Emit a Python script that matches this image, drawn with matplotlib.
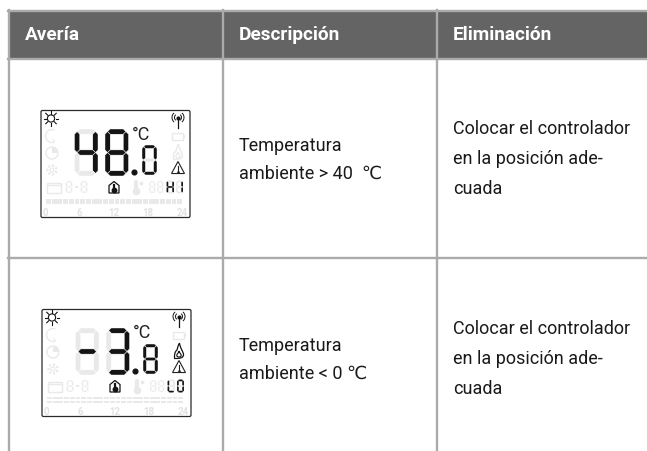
import matplotlib
matplotlib.use("Agg")
import matplotlib.pyplot as plt
from matplotlib.patches import Polygon, Rectangle, FancyBboxPatch, Circle, Wedge, PathPatch
from matplotlib.path import Path
import numpy as np

# table contents
headers = ["Avería", "Descripción", "Eliminación"]
descriptions = [["Temperatura", "ambiente > 40  ℃"], ["Temperatura", "ambiente < 0 ℃"]]
remedies = [["Colocar el controlador", "en la posición ade-", "cuada"],
            ["Colocar el controlador", "en la posición ade-", "cuada"]]

# what each display shows
big_digits = [["4", "8"], ["-", "3"]]
small_digit = ["0", "8"]
status_text = [["H", "I"], ["L", "0"]]
flame_on = [False, True]
double_bar = [False, True]
hour_labels = ["0", "6", "12", "18", "24"]

# layout in pixels
col_lines = [9, 223, 437]
col_text = [25, 239, 453]
lcd_tops = [110, 309]
lcd_left = [40, 41]
desc_base = [[151, 179], [351, 379]]
rem_base = [[134.5, 164.5, 194.5], [334.5, 364.5, 394.5]]

SEGS = {"0": "abcdef", "3": "abcdg", "4": "bcfg", "8": "abcdefg", "-": "g",
        "H": "bcefg", "I": "bc", "L": "def"}
OFF = "#e9e9e9"
ON = "#141414"
LINE = "#ababab"
HEAD = "#646464"

plt.rcParams["font.family"] = ["Roboto", "DejaVu Sans"]

fig = plt.figure(figsize=(6.47, 4.51), dpi=100)
ax = fig.add_axes([0, 0, 1, 1])
ax.set_xlim(0, 647)
ax.set_ylim(451, 0)
ax.axis("off")


def segment(name, x, y, w, h, t):
    m = y + h / 2
    r = x + w
    b = y + h
    s = t * 0.5
    shapes = {
        "a": [(x + s, y + s), (x + t, y), (r - t, y), (r - s, y + s), (r - t, y + t), (x + t, y + t)],
        "d": [(x + s, b - s), (x + t, b - t), (r - t, b - t), (r - s, b - s), (r - t, b), (x + t, b)],
        "g": [(x + s, m), (x + t, m - s), (r - t, m - s), (r - s, m), (r - t, m + s), (x + t, m + s)],
        "f": [(x, y + t), (x + s, y + s), (x + t, y + t), (x + t, m - s), (x + s, m), (x, m - s)],
        "e": [(x, m + s), (x + s, m), (x + t, m + s), (x + t, b - t), (x + s, b - s), (x, b - t)],
        "b": [(r - t, y + t), (r - s, y + s), (r, y + t), (r, m - s), (r - s, m), (r - t, m - s)],
        "c": [(r - t, m + s), (r - s, m), (r, m + s), (r, b - t), (r - s, b - s), (r - t, b - t)],
    }
    return shapes[name]


def digit(ch, x, y, w, h, t, off=OFF, on=ON, gap=0.3):
    lit = SEGS.get(ch, "")
    for name in "abcdefg":
        col = on if name in lit else off
        ax.add_patch(Polygon(segment(name, x, y, w, h, t), closed=True, fc=col, ec="white", lw=gap, zorder=3))


def triangle(cx, cy, col, size=6.5):
    pts = [(cx, cy - size), (cx + size, cy + size * 0.85), (cx - size, cy + size * 0.85)]
    ax.add_patch(Polygon(pts, closed=True, fc="white", ec=col, lw=0.8, zorder=3))
    ax.plot([cx, cx], [cy - 2, cy + 2.5], color=col, lw=0.8, zorder=4)
    ax.plot([cx], [cy + 4], marker="o", ms=0.9, color=col, zorder=4)


def flame(cx, cy, col, lw):
    verts = [(cx + 0.5, cy - 8), (cx + 1, cy - 3), (cx + 4.5, cy + 1), (cx + 4.5, cy + 3.5),
             (cx + 4.5, cy + 7.5), (cx, cy + 7.5), (cx - 4.5, cy + 7.5), (cx - 4.5, cy + 3.5),
             (cx - 4.5, cy + 1), (cx - 2, cy - 1), (cx - 1.5, cy - 3), (cx - 1, cy - 5.5), (cx + 0.5, cy - 8)]
    codes = [Path.MOVETO] + [Path.CURVE4] * 12
    ax.add_patch(PathPatch(Path(verts, codes), fc="white", ec=col, lw=lw, zorder=3))
    inner = [(cx, cy), (cx + 0.5, cy + 2), (cx + 2.2, cy + 3), (cx + 2.2, cy + 4.5),
             (cx + 2.2, cy + 6.5), (cx - 2.2, cy + 6.5), (cx - 2.2, cy + 4.5),
             (cx - 2.2, cy + 3), (cx - 0.5, cy + 2), (cx, cy)]
    codes2 = [Path.MOVETO] + [Path.CURVE4] * 9
    ax.add_patch(PathPatch(Path(inner, codes2), fc="white", ec=col, lw=lw * 0.9, zorder=3))


def draw_lcd(i):
    x0 = lcd_left[i]
    y0 = lcd_tops[i]
    ax.add_patch(FancyBboxPatch((x0 + 1, y0 + 0.5), 149, 107, boxstyle="round,pad=0,rounding_size=1.5",
                                fc="white", ec="#2a2a2a", lw=0.9, zorder=2))
    dx = x0 - 40

    # sun
    sx, sy = 51 + dx, y0 + 8.5
    ax.add_patch(Circle((sx, sy), 3.6, fc="none", ec=ON, lw=0.8, zorder=3))
    for a in np.arange(0, 360, 45):
        c, s = np.cos(np.radians(a)), np.sin(np.radians(a))
        ax.plot([sx + 4.6 * c, sx + 7.4 * c], [sy + 4.6 * s, sy + 7.4 * s], color=ON, lw=0.8, zorder=3)

    # faint symbols on the left
    mx = 52 + dx
    ax.add_patch(Wedge((mx, y0 + 26), 6.5, 70, 290, fc="white", ec=OFF, lw=1, zorder=3))
    ax.add_patch(Circle((mx + 3.5, y0 + 25), 5, fc="white", ec="none", zorder=3))
    ax.add_patch(Circle((mx, y0 + 43), 6, fc="white", ec=OFF, lw=1, zorder=3))
    ax.add_patch(Wedge((mx, y0 + 43), 6, 270, 0, fc=OFF, ec="none", zorder=3))
    ax.add_patch(Circle((mx, y0 + 60), 4.5, fc="white", ec=OFF, lw=1.6, ls=(0, (1, 0.8)), zorder=3))
    ax.add_patch(Circle((mx, y0 + 60), 2, fc="white", ec=OFF, lw=0.8, zorder=3))

    # big digits
    for k, ch in enumerate(big_digits[i]):
        digit(ch, 74.5 + dx + k * 30.5, y0 + 19, 23.5, 47, 5.2)
    ax.plot([134 + dx], [y0 + 62], marker="o", ms=3.4, color=ON, zorder=4)
    digit(small_digit[i], 142 + dx, y0 + 35, 15, 30, 3.4)
    ax.text(131.5 + dx, y0 + 24.5, "°C", fontsize=13, color="#222222", va="center", ha="left", zorder=4)

    # antenna
    ax_, ay = 178 + dx, y0 + 9
    ax.plot([ax_, ax_], [ay - 1, ay + 9], color=ON, lw=0.9, zorder=3)
    ax.plot([ax_], [ay - 1.5], marker="o", ms=2, color=ON, zorder=3)
    for r in (3.5, 6):
        t = np.radians(np.linspace(-45, 45, 12))
        ax.plot(ax_ + r * np.cos(t), ay - 1.5 + r * np.sin(t), color=ON, lw=0.7, zorder=3)
        ax.plot(ax_ - r * np.cos(t), ay - 1.5 + r * np.sin(t), color=ON, lw=0.7, zorder=3)

    # battery, flame, warning
    ax.add_patch(Rectangle((172 + dx, y0 + 23), 11, 7, fc="white", ec=OFF, lw=1, zorder=3))
    ax.add_patch(Rectangle((183 + dx, y0 + 25), 2, 3, fc=OFF, ec="none", zorder=3))
    if flame_on[i]:
        flame(178 + dx, y0 + 42, ON, 0.9)
    else:
        flame(178 + dx, y0 + 42, OFF, 1.0)
    triangle(178 + dx, y0 + 58, "#222222")

    # lower row
    ly = y0 + 71
    ax.add_patch(Rectangle((47 + dx, ly + 1.5), 14, 10, fc="white", ec=OFF, lw=1, zorder=3))
    ax.plot([47 + dx, 61 + dx], [ly + 4, ly + 4], color=OFF, lw=1, zorder=3)
    digit("", 65.5 + dx, ly, 7, 12, 1.7)
    digit("", 80.5 + dx, ly, 7, 12, 1.7)
    ax.add_patch(Rectangle((74.5 + dx, ly + 5.4), 3.5, 1.4, fc=OFF, ec="none", zorder=3))

    # house with thermometer
    hx = 114 + dx
    ax.add_patch(Polygon([(hx, ly + 0.5), (hx + 5, ly + 4.5), (hx + 5, ly + 12), (hx - 5, ly + 12), (hx - 5, ly + 4.5)],
                         closed=True, fc="white", ec=ON, lw=0.9, zorder=3))
    ax.plot([hx, hx], [ly + 4, ly + 8.5], color=ON, lw=1.6, zorder=4)
    ax.plot([hx], [ly + 9], marker="o", ms=3.2, color=ON, zorder=4)

    # thermometer
    ax.plot([136 + dx, 136 + dx], [ly + 1, ly + 10], color=OFF, lw=3, zorder=3, solid_capstyle="round")
    ax.plot([136 + dx], [ly + 10], marker="o", ms=4.5, color=OFF, zorder=3)
    ax.plot([141 + dx], [ly + 2], marker="o", ms=1.6, color=OFF, zorder=3)

    digit("", 149 + dx, ly, 6.5, 12, 1.7)
    digit("", 157 + dx, ly, 6.5, 12, 1.7)
    digit(status_text[i][0], 166.5 + dx, ly - 0.5, 7.5, 13, 1.8, gap=0.05)
    digit(status_text[i][1], 176 + dx, ly - 0.5, 7, 13, 1.8, gap=0.05)

    # hour bar
    n = 24
    bx0, bx1 = 46 + dx, 183 + dx
    step = (bx1 - bx0) / n
    for k in range(n):
        if double_bar[i]:
            ax.add_patch(Rectangle((bx0 + k * step, y0 + 88), step - 0.8, 2.2, fc=OFF, ec="none", zorder=3))
            ax.add_patch(Rectangle((bx0 + k * step, y0 + 91.5), step - 0.8, 2.2, fc=OFF, ec="none", zorder=3))
        else:
            ax.add_patch(Rectangle((bx0 + k * step, y0 + 89), step - 0.8, 5, fc=OFF, ec="none", zorder=3))
    for k, lab in enumerate(hour_labels):
        ax.text(bx0 - 1 + k * 34.4, y0 + 103, lab, fontsize=7, fontweight="bold", color="#e2e2e2",
                ha="center", va="center", zorder=3)


# header band and table rules
ax.add_patch(Rectangle((9, 12), 638, 46, fc=HEAD, ec="none", zorder=1))
ax.plot([8, 647], [11, 11], color=LINE, lw=1.7, zorder=1.5)
ax.plot([8, 647], [59, 59], color=LINE, lw=1.7, zorder=1.5)
ax.plot([8, 647], [258, 258], color=LINE, lw=1.7, zorder=1.5)
for x in col_lines:
    ax.plot([x, x], [10, 451], color=LINE, lw=1.7, zorder=1.5)

for x, h in zip(col_text, headers):
    ax.text(x, 35, h, fontsize=13.7, fontweight="bold", color="white", ha="left", va="center", zorder=5)

for i in range(2):
    draw_lcd(i)
    for s, y in zip(descriptions[i], desc_base[i]):
        ax.text(col_text[1], y, s, fontsize=13, color="#1a1a1a", ha="left", va="baseline", zorder=5)
    for s, y in zip(remedies[i], rem_base[i]):
        ax.text(col_text[2], y, s, fontsize=13, color="#1a1a1a", ha="left", va="baseline", zorder=5)

fig.savefig("out.png", dpi=100)
